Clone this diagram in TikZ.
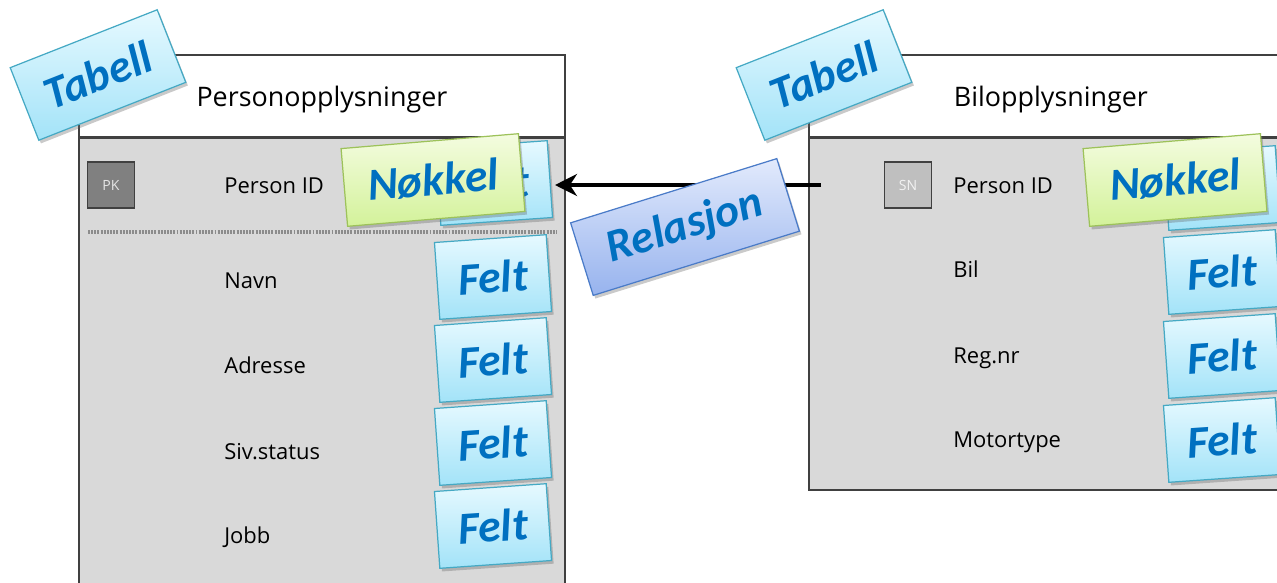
\documentclass[tikz,border=0pt]{standalone}
\usepackage{fontspec}
\setmainfont{Open Sans}
\newfontfamily\notefont{Carlito}
\usetikzlibrary{positioning,shadows,calc,arrows.meta}
\definecolor{tablegray}{HTML}{D9D9D9}
\definecolor{framegray}{HTML}{404040}
\definecolor{noteblue}{HTML}{0070C0}
\definecolor{fieldtop}{HTML}{E6F9FF}
\definecolor{fieldbottom}{HTML}{A3E3F8}
\definecolor{fieldborder}{HTML}{45A9C4}
\definecolor{keytop}{HTML}{F4FCE0}
\definecolor{keybottom}{HTML}{D3F29A}
\definecolor{keyborder}{HTML}{9DC25A}
\definecolor{reltop}{HTML}{E2EAFC}
\definecolor{relbottom}{HTML}{97B3EE}
\definecolor{relborder}{HTML}{4A7BC8}
\tikzset{
	>={Stealth[length=4.4mm,width=4.4mm]}
}

\begin{document}
\begin{tikzpicture}[
x = 0.02cm, y = -0.02cm,
every node/.style = {
	font = \fontsize{12.5}{14}\selectfont
},
tablehead/.style = {
	draw = framegray,
	line width = 1.1pt,
	fill = white,
	minimum height = 1.64cm,
	text depth = 0pt,
	font = \fontsize{15.3}{18}\selectfont
},
tablebody/.style = {
	draw = framegray,
	line width = 1.1pt,
	fill = tablegray
},
keybox/.style = {
	draw = framegray,
	line width = 0.8pt,
	minimum width = 0.94cm,
	minimum height = 0.92cm,
	font = \fontsize{8}{9}\selectfont
},
row/.style = {
	anchor = base west,
	inner sep = 0pt
},
note/.style = {
	draw,
	line width = 0.7pt,
	text = noteblue,
	font = \notefont\bfseries\itshape\fontsize{26}{26}\selectfont,
	drop shadow = {shadow xshift = 1.2pt, shadow yshift = -1.8pt, opacity = 0.35, fill = black!60}
},
tabell/.style = {
	note,
	top color = fieldtop,
	bottom color = fieldbottom,
	draw = fieldborder,
	minimum width = 3.16cm,
	minimum height = 1.56cm,
	rotate = 21.5
},
felt/.style = {
	note,
	top color = fieldtop,
	bottom color = fieldbottom,
	draw = fieldborder,
	minimum width = 2.24cm,
	minimum height = 1.54cm,
	rotate = 4
},
nokkel/.style = {
	note,
	top color = keytop,
	bottom color = keybottom,
	draw = keyborder,
	minimum width = 3.56cm,
	minimum height = 1.56cm,
	rotate = 4.8
},
relasjon/.style = {
	note,
	top color = reltop,
	bottom color = relbottom,
	draw = relborder,
	minimum width = 4.32cm,
	minimum height = 1.52cm,
	rotate = 17.3
},
relation/.style = {
	->,
	line width = 2.3pt
}
]
\useasboundingbox (0,0) rectangle (1277,582);
\clip (0,0) rectangle (1277,582);

% tables
\node (persons) [tablehead, minimum width = 9.72cm, anchor = north west] at (78,54) {Personopplysninger};
\node (personsbody) [tablebody, below = -0.4pt of persons.south west, anchor = north west, minimum width = 9.72cm, minimum height = 9.6cm] {};
\node (cars) [tablehead, minimum width = 9.68cm, anchor = north west] at (808,54) {Bilopplysninger};
\node (carsbody) [tablebody, below = -0.4pt of cars.south west, anchor = north west, minimum width = 9.68cm, minimum height = 7.04cm] {};
\draw [black!45, line width = 2pt, dash pattern = on 1.1pt off 0.7pt] (88,232) -- (557,232);

\node (pk) [keybox, fill = black!50, text = white!90!black] at (111,185) {PK};
\node (sn) [keybox, fill = black!25, text = white!95!black] at (908,185) {SN};

% rows
\node (pid) [row] at (224,193) {Person ID};
\node (navn) [row] at (224,288) {Navn};
\node (adresse) [row] at (224,373) {Adresse};
\node (siv) [row] at (224,459) {Siv.status};
\node (jobb) [row] at (224,543) {Jobb};
\node (bpid) [row] at (953,193) {Person ID};
\node (bil) [row] at (953,277) {Bil};
\node (regnr) [row] at (953,363) {Reg.nr};
\node (motor) [row] at (953,447) {Motortype};

% relation
\coordinate (relfrom) at (821,185);
\coordinate (relto) at (555,185);
\draw [relation] (relfrom) -- (relto);

% callouts
\node (feltA) [felt] at (494,183) {Felt};
\node (feltB) [felt] at (493,277) {Felt};
\node (feltC) [felt] at (493,360) {Felt};
\node (feltD) [felt] at (493,443) {Felt};
\node (feltE) [felt] at (493,526) {Felt};
\node (feltF) [felt] at (1222,188) {Felt};
\node (feltG) [felt] at (1222,272) {Felt};
\node (feltH) [felt] at (1222,356) {Felt};
\node (feltI) [felt] at (1222,440) {Felt};
\node (keyA) [nokkel] at (433,180) {Nøkkel};
\node (keyB) [nokkel] at (1175,180) {Nøkkel};
\node (tabA) [tabell] at (98,75) {Tabell};
\node (tabB) [tabell] at (824,75) {Tabell};
\node (rel) [relasjon] at (685,227) {Relasjon};

\end{tikzpicture}
\end{document}
